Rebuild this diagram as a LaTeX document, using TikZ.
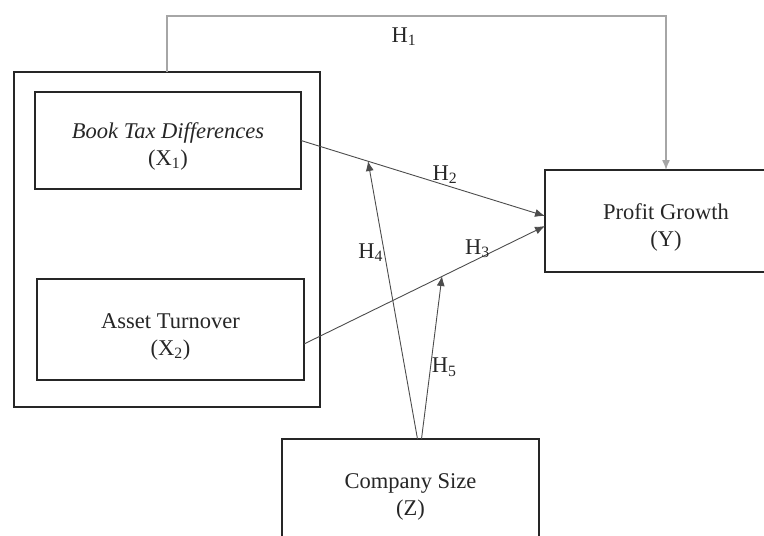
\documentclass[tikz,border=0pt]{standalone}
\usepackage{fontspec}
\setmainfont{Liberation Serif}
\usetikzlibrary{arrows.meta}

\begin{document}
\begin{tikzpicture}[x=1pt, y=-1pt, font=\fontsize{22.5}{27}\selectfont]
        \useasboundingbox (0,0) rectangle (764,536);
        \clip (0,0) rectangle (764,536);
        \begin{scope}[every node/.style={draw=black!85, line width=1.5pt, rectangle, inner sep=0, outer sep=0, align=center, text=black!85}]
            \node [minimum width=306, minimum height=335] (grp) at (167,239.5) {};
            \node [minimum width=266, minimum height=97, text height=54.5pt] (btd) at (168,140.5) {\textit{Book Tax Differences}\\(X\textsubscript{1})};
            \node [minimum width=267, minimum height=101, text height=56pt] (ato) at (170.5,329.5) {Asset Turnover\\(X\textsubscript{2})};
            \node [minimum width=242, minimum height=102, text height=55pt] (pg) at (666,221) {Profit Growth\\(Y)};
            \node [minimum width=257, minimum height=110, text height=48pt] (cs) at (410.5,494) {Company Size\\(Z)};
        \end{scope}
        \coordinate (top) at (404,16);
        \coordinate (m2) at (368,161);
        \coordinate (m3) at (442,276);
        \begin{scope}[every node/.style={inner sep=1pt, text=black!85}, every edge/.style={draw=black!70, line width=0.9pt, -{Latex[length=10pt,width=8pt]}}]
            \draw [draw=black!35, line width=1.4pt, -{Latex[length=10pt,width=8pt]}] (grp.north) |- (top) -| (pg.north);
            \node (h1) at (404,37) {H\textsubscript{1}};
            \path (btd.east) edge node [pos=.59, above] {H\textsubscript{2}} ([yshift=5pt]pg.west);
            \path ([yshift=-14.5pt]ato.east) edge node [pos=.72, above] {H\textsubscript{3}} ([yshift=-5pt]pg.west);
            \path ([xshift=7pt]cs.north) edge node [pos=.67, left] {H\textsubscript{4}} (m2);
            \path ([xshift=11pt]cs.north) edge node [pos=.44, right] {H\textsubscript{5}} (m3);
        \end{scope}
    \end{tikzpicture}
\end{document}
